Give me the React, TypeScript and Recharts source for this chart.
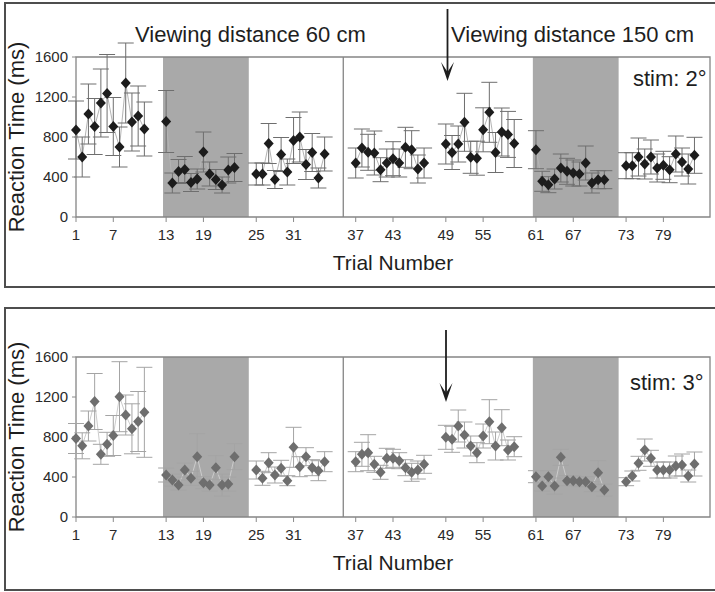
import React from 'react';
import {
  ComposedChart,
  Line,
  Scatter,
  ErrorBar,
  XAxis,
  YAxis,
  ReferenceArea,
  ReferenceLine
} from 'recharts';

// reaction times (ms) per trial
const rtStim2 = [
  870, 600, 1030, 905, 1140, 1235, 905, 700, 1340, 950, 1010, 880,
  955, 340, 455, 475, 345, 380, 650, 430, 375, 320, 470, 495,
  430, 430, 735, 375, 625, 450, 765, 800, 525, 645, 390, 630,
  540, 690, 647, 640, 473, 540, 583, 540, 697, 673, 480, 540,
  730, 645, 730, 947, 597, 588, 872, 1047, 645, 850, 826, 735,
  673, 357, 323, 380, 490, 457, 440, 430, 540, 340, 373, 373,
  513, 513, 600, 530, 600, 490, 517, 473, 630, 550, 480, 617
];
const errStim2 = [
  290, 200, 300, 280, 340, 390, 290, 200, 400, 290, 300, 270,
  310, 100, 120, 130, 90, 100, 200, 120, 100, 80, 130, 140,
  110, 110, 200, 90, 170, 130, 230, 250, 150, 190, 100, 170,
  150, 190, 180, 220, 120, 140, 170, 140, 200, 190, 140, 150,
  200, 170, 180, 290, 160, 170, 220, 300, 200, 240, 230, 240,
  190, 100, 80, 100, 140, 130, 130, 120, 170, 100, 90, 90,
  130, 130, 190, 150, 170, 140, 140, 130, 180, 140, 150, 180
];
const rtStim3 = [
  785, 712, 910, 1155, 627, 727, 815, 1203, 1020, 882, 955, 1047,
  420, 370, 320, 470, 387, 603, 343, 320, 493, 320, 330, 603,
  470, 387, 543, 420, 487, 363, 697, 503, 603, 493, 463, 553,
  553, 627, 643, 527, 447, 587, 587, 563, 493, 447, 470, 527,
  797, 777, 910, 820, 710, 643, 810, 953, 710, 893, 670, 703,
  403, 310, 403, 310, 597, 363, 363, 353, 353, 303, 443, 270,
  353, 410, 537, 670, 587, 470, 470, 470, 510, 520, 410, 530
];
const errStim3 = [
  150, 130, 150, 280, 100, 120, 200, 350, 200, 250, 300, 450,
  70, 60, 50, 70, 70, 230, 60, 60, 120, 110, 70, 130,
  90, 70, 100, 80, 80, 50, 200, 100, 90, 80, 100, 100,
  100, 120, 180, 80, 70, 100, 90, 80, 80, 90, 90, 90,
  120, 130, 160, 130, 100, 100, 120, 220, 140, 180, 100, 100,
  60, 50, 60, 80, 80, 50, 50, 50, 50, 50, 120, 60,
  40, 50, 70, 110, 80, 80, 80, 80, 100, 110, 60, 120
];

const trials = rtStim2.map((_, i) => i + 1);
const xTickTrials = [1, 7, 13, 19, 25, 31, 37, 43, 49, 55, 61, 67, 73, 79];
const yTicks = [0, 400, 800, 1200, 1600];
const shadedBlocks = [[13, 24], [61, 72]];
const BLOCK = 12;

// trials sit in blocks of 12 with a small gap between blocks
const pos = (t: number) => {
  const b = Math.floor((t - 1) / BLOCK);
  return t - 1 + 2.5 * b + (b >= 3 ? 1.5 : 0);
};
const X_MAX = 102;
const tickLabel = (u: number) => {
  const t = xTickTrials.find((tt) => Math.abs(pos(tt) - u) < 0.01);
  return t === undefined ? '' : String(t);
};

const FONT = '"Liberation Sans", Arial, Helvetica, sans-serif';

const Diamond = (color: string) => (props: any) => {
  const { cx, cy } = props;
  if (cx == null || cy == null) return null;
  return (
    <polygon
      points={`${cx},${cy - 5.5} ${cx + 5},${cy} ${cx},${cy + 5.5} ${cx - 5},${cy}`}
      fill={color}
    />
  );
};

interface PanelProps {
  rt: number[];
  err: number[];
  top: number;
  dark: boolean;
}

const Panel: React.FC<PanelProps> = ({ rt, err, top, dark }) => {
  const rows = trials.map((t, i) => ({ u: pos(t), rt: rt[i], err: err[i] }));
  // null after each block so the connecting line breaks between blocks
  const lineRows: { u: number; rt: number | null }[] = [];
  rows.forEach((r, i) => {
    lineRows.push({ u: r.u, rt: r.rt });
    if ((i + 1) % BLOCK === 0) lineRows.push({ u: r.u + 1, rt: null });
  });

  const markColor = dark ? '#1c1c1c' : '#6e6e6e';
  const barColor = dark ? '#6e6e6e' : '#a4a4a4';
  const lineColor = dark ? '#b4b4b4' : '#cccccc';

  return (
    <div style={{ position: 'absolute', left: 0, top }}>
      <ComposedChart
        width={715}
        height={292}
        data={lineRows}
        margin={{ top: 41, right: 5, bottom: 22, left: 0 }}
      >
        {shadedBlocks.map(([a, b]) => (
          <ReferenceArea
            key={a}
            x1={pos(a) - 0.5}
            x2={pos(b) + 2.3}
            y1={0}
            y2={1600}
            fill="#a9a9a9"
            fillOpacity={1}
            stroke="none"
          />
        ))}
        <ReferenceArea
          x1={0}
          x2={X_MAX}
          y1={0}
          y2={1600}
          fill="none"
          stroke="#858585"
          strokeWidth={1.3}
        />
        <ReferenceLine
          segment={[{ x: 43.0, y: 0 }, { x: 43.0, y: 1600 }]}
          stroke="#858585"
          strokeWidth={1.3}
        />
        <XAxis
          type="number"
          dataKey="u"
          domain={[0, X_MAX]}
          ticks={xTickTrials.map(pos)}
          tickFormatter={tickLabel}
          interval={0}
          height={53}
          axisLine={false}
          tickLine={{ stroke: '#8a8a8a' }}
          tickSize={5}
          tickMargin={7}
          tick={{ fontSize: 15, fill: '#2a2a2a', fontFamily: FONT }}
          label={{
            value: 'Trial Number',
            position: 'insideBottom',
            offset: 0,
            style: { fontSize: 21, fill: '#1e1e1e', fontFamily: FONT }
          }}
        />
        <YAxis
          type="number"
          domain={[0, 1760]}
          allowDataOverflow
          ticks={yTicks}
          interval={0}
          width={76}
          axisLine={false}
          tickLine={{ stroke: '#8a8a8a' }}
          tickSize={4}
          tickMargin={4}
          tick={{ fontSize: 15, fill: '#2a2a2a', fontFamily: FONT }}
          label={{
            value: 'Reaction Time (ms)',
            angle: -90,
            position: 'insideLeft',
            offset: 16,
            dy: 8,
            style: { textAnchor: 'middle', fontSize: 22, fill: '#1e1e1e', fontFamily: FONT }
          }}
        />
        <Line
          type="linear"
          dataKey="rt"
          stroke={lineColor}
          strokeWidth={1}
          dot={false}
          connectNulls={false}
          isAnimationActive={false}
        />
        <Scatter
          data={rows}
          dataKey="rt"
          shape={Diamond(markColor)}
          isAnimationActive={false}
        >
          <ErrorBar dataKey="err" direction="y" width={8} stroke={barColor} strokeWidth={1} />
        </Scatter>
      </ComposedChart>
    </div>
  );
};

const Arrow: React.FC<{ x: number; y1: number; y2: number }> = ({ x, y1, y2 }) => (
  <g>
    <line x1={x} y1={y1} x2={x} y2={y2 - 6} stroke="#1e1e1e" strokeWidth={1.8} />
    <polygon
      points={`${x - 6.5},${y2 - 19} ${x},${y2} ${x + 6.5},${y2 - 19} ${x},${y2 - 9}`}
      fill="#1e1e1e"
    />
  </g>
);

export default function App() {
  return (
    <div
      style={{
        position: 'absolute',
        left: 0,
        top: 0,
        width: 715,
        height: 592,
        background: '#fff',
        overflow: 'hidden',
        fontFamily: FONT
      }}
    >
      <Panel rt={rtStim2} err={errStim2} top={0} dark />
      <Panel rt={rtStim3} err={errStim3} top={300} dark={false} />
      <svg
        width={715}
        height={592}
        style={{ position: 'absolute', left: 0, top: 0, pointerEvents: 'none' }}
      >
        <rect x={5} y={3} width={714} height={284} fill="none" stroke="#4e4e4e" strokeWidth={2} />
        <rect x={5} y={308} width={714} height={282} fill="none" stroke="#4e4e4e" strokeWidth={2} />
        <text x={135} y={42} fontSize={22} fill="#1e1e1e" fontFamily={FONT}>
          Viewing distance 60 cm
        </text>
        <text x={451} y={42} fontSize={22} fill="#1e1e1e" fontFamily={FONT}>
          Viewing distance 150 cm
        </text>
        <text x={633} y={86} fontSize={22} fill="#1e1e1e" fontFamily={FONT}>
          stim: 2°
        </text>
        <text x={630} y={390} fontSize={22} fill="#1e1e1e" fontFamily={FONT}>
          stim: 3°
        </text>
        <Arrow x={447.5} y1={9} y2={81} />
        <Arrow x={446} y1={330} y2={402} />
      </svg>
    </div>
  );
}
